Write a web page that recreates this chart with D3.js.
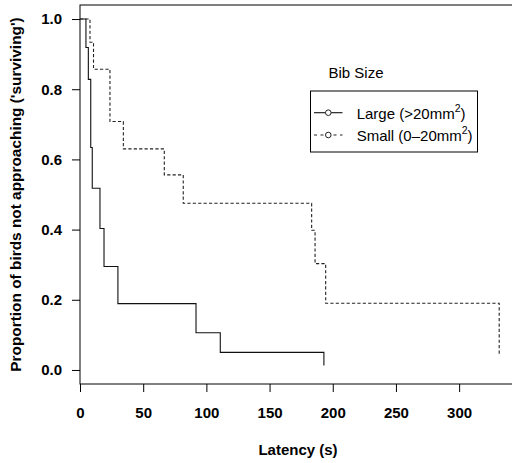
<!DOCTYPE html>
<html>
<head>
<meta charset="utf-8">
<script src="https://cdn.jsdelivr.net/npm/d3@7"></script>
<style>
  html, body { margin: 0; padding: 0; background: #fff; }
  svg { display: block; font-family: "Liberation Sans", Arial, sans-serif; }
</style>
</head>
<body>
<svg id="chart" width="512" height="463"></svg>
<script>
// Kaplan–Meier survival estimates: latency to approach, by bib size
const largeTimes = [0, 4.7, 6.6, 8.5, 9.7, 15.8, 19, 30, 91.8, 111, 193];
const largeSurv  = [1, 0.919, 0.828, 0.634, 0.518, 0.403, 0.295, 0.189, 0.106, 0.050, 0.013];
const smallTimes = [0, 7.9, 10.7, 23.7, 34.3, 66.7, 81.7, 183.3, 186, 194.4, 331.7];
const smallSurv  = [1, 0.934, 0.857, 0.708, 0.630, 0.556, 0.475, 0.398, 0.303, 0.190, 0.043];

const xTicks = [0, 50, 100, 150, 200, 250, 300];
const yTicks = [0, 0.2, 0.4, 0.6, 0.8, 1.0];

const legendTitle = "Bib Size";
const legendLabels = [
  { base: "Large (>20mm", sup: "2", tail: ")" },
  { base: "Small (0\u201320mm", sup: "2", tail: ")" }
];

const svg = d3.select("#chart");
const plotL = 80, plotR = 516, plotT = 5, plotB = 384;

const x = d3.scaleLinear().domain([0, 345]).range([plotL, plotR]);
const y = d3.scaleLinear().domain([-0.04, 1.04]).range([plotB, plotT]);

// plot frame
svg.append("rect")
  .attr("x", plotL).attr("y", plotT)
  .attr("width", plotR - plotL).attr("height", plotB - plotT)
  .attr("fill", "none").attr("stroke", "#000").attr("stroke-width", 1);

// axes
const xAxis = svg.append("g")
  .attr("transform", `translate(0,${plotB})`)
  .call(d3.axisBottom(x).tickValues(xTicks).tickFormat(d3.format("d")).tickSize(8).tickPadding(15.5));
const yAxis = svg.append("g")
  .attr("transform", `translate(${plotL},0)`)
  .call(d3.axisLeft(y).tickValues(yTicks).tickFormat(d3.format(".1f")).tickSize(8).tickPadding(10));
[xAxis, yAxis].forEach(g => {
  g.select(".domain").remove();
  g.selectAll("line").attr("stroke", "#000");
  g.selectAll("text").attr("fill", "#000")
    .style("font-size", "15px").style("font-weight", "bold")
    .style("font-family", "'Liberation Sans', Arial, sans-serif");
});

// axis titles
svg.append("text")
  .attr("x", (plotL + plotR) / 2).attr("y", 455)
  .attr("text-anchor", "middle")
  .style("font-size", "15px").style("font-weight", "bold")
  .text("Latency (s)");
svg.append("text")
  .attr("transform", `translate(21,${(plotT + plotB) / 2}) rotate(-90)`)
  .attr("text-anchor", "middle")
  .style("font-size", "15.4px").style("font-weight", "bold")
  .text("Proportion of birds not approaching ('surviving')");

// survival curves
const line = d3.line().curve(d3.curveStepAfter).x(d => x(d[0])).y(d => y(d[1]));
const largeData = largeTimes.map((t, i) => [t, largeSurv[i]]);
const smallData = smallTimes.map((t, i) => [t, smallSurv[i]]);

svg.append("path").datum(largeData)
  .attr("d", line).attr("fill", "none")
  .attr("stroke", "#111").attr("stroke-width", 1.1);
svg.append("path").datum(smallData)
  .attr("d", line).attr("fill", "none")
  .attr("stroke", "#222").attr("stroke-width", 1.1)
  .attr("stroke-dasharray", "3.2,2.2");

// legend
svg.append("text")
  .attr("x", 328.5).attr("y", 77.5)
  .style("font-size", "15px")
  .text(legendTitle);

const lg = svg.append("g");
lg.append("rect")
  .attr("x", 310.5).attr("y", 91)
  .attr("width", 167).attr("height", 61)
  .attr("fill", "#fff").attr("stroke", "#000").attr("stroke-width", 1);

const rowY = [112.7, 135];
const dashes = [null, "3,3.5"];
legendLabels.forEach((lab, i) => {
  const cy = rowY[i];
  lg.append("line")
    .attr("x1", 314).attr("x2", 342.5).attr("y1", cy).attr("y2", cy)
    .attr("stroke", i === 0 ? "#111" : "#222").attr("stroke-width", 1.1)
    .attr("stroke-dasharray", dashes[i]);
  lg.append("circle")
    .attr("cx", 328.3).attr("cy", cy).attr("r", 2.8)
    .attr("fill", "#fff").attr("stroke", "#222").attr("stroke-width", 1);
  const t = lg.append("text")
    .attr("x", 356.7).attr("y", cy + 6.3)
    .style("font-size", "15px");
  t.append("tspan").text(lab.base);
  t.append("tspan").attr("dy", -7).style("font-size", "10.5px").text(lab.sup);
  t.append("tspan").attr("dy", 7).text(lab.tail);
});
</script>
</body>
</html>
